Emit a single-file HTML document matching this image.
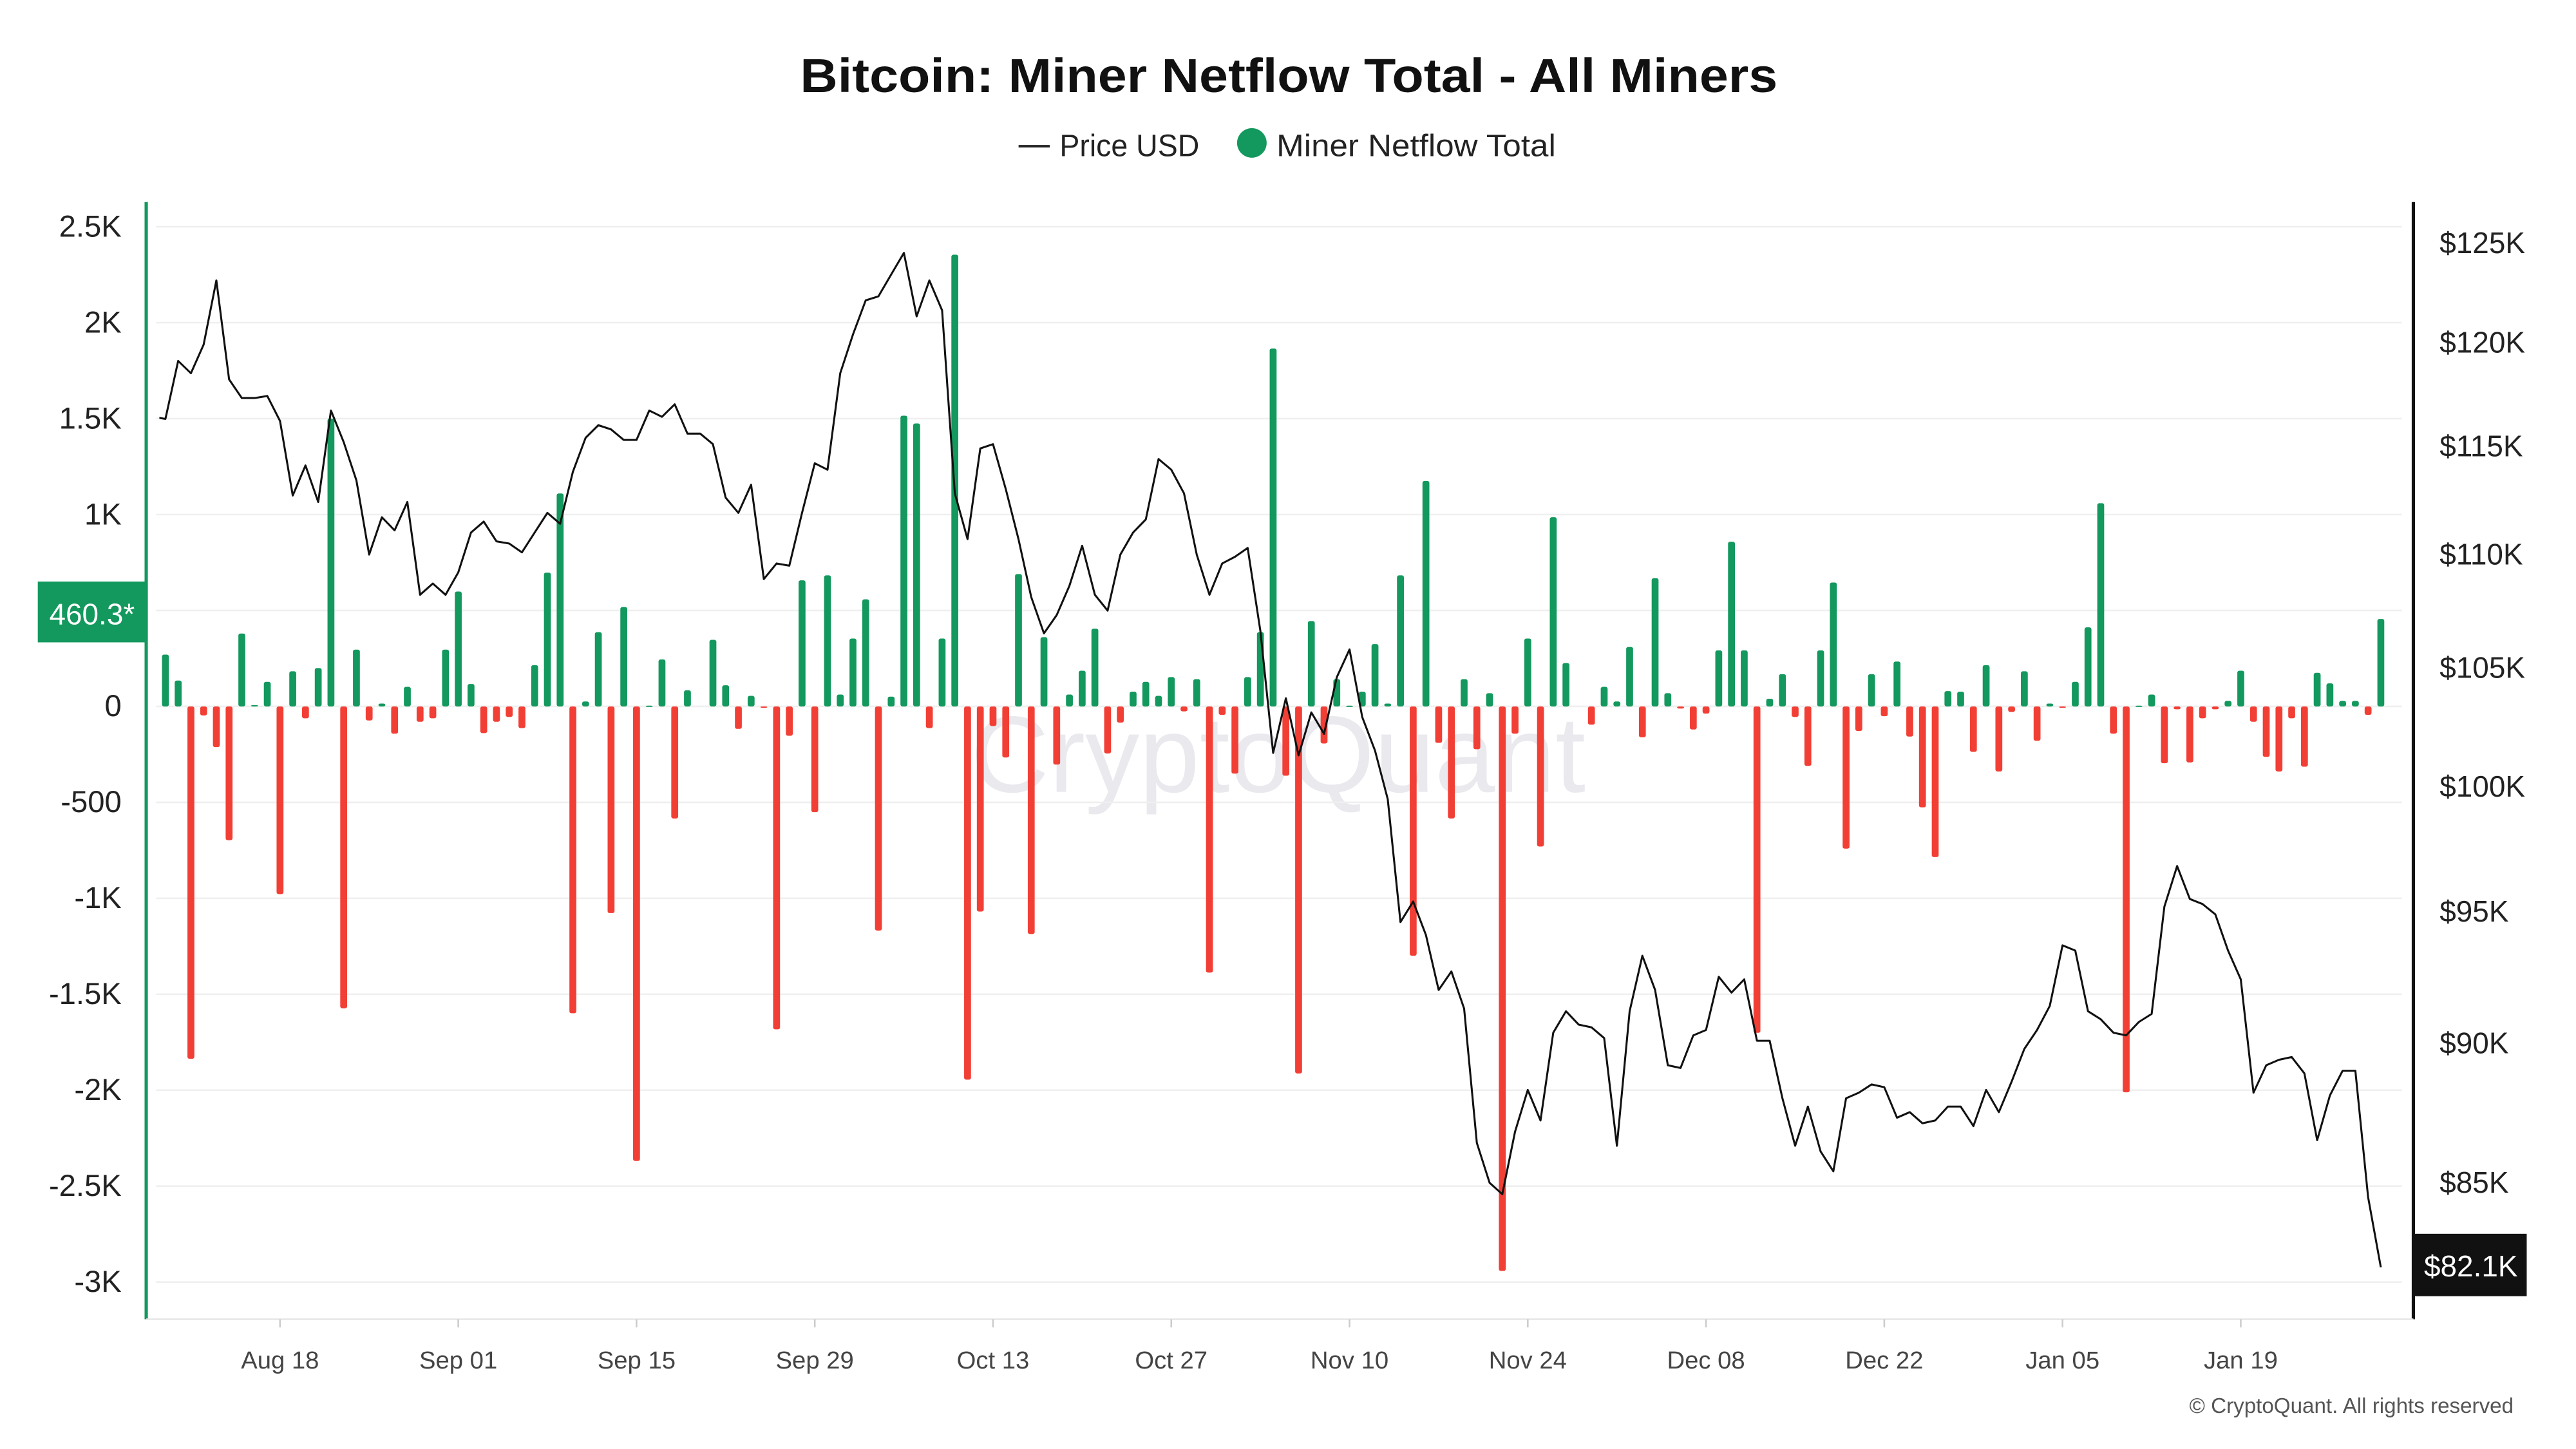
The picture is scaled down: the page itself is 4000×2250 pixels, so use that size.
<!DOCTYPE html>
<html><head><meta charset="utf-8"><style>
html,body{margin:0;padding:0;background:#fff;}
svg{display:block;font-family:"Liberation Sans",sans-serif;}
</style></head><body>
<svg id="chart" width="4000" height="2250" viewBox="0 0 1568 882" xmlns="http://www.w3.org/2000/svg">
<rect width="1568" height="882" fill="#fff"/>
<text x="487" y="56" textLength="595" lengthAdjust="spacingAndGlyphs" font-size="29" font-weight="bold" fill="#111">Bitcoin: Miner Netflow Total - All Miners</text>
<g>
<g><line x1="620" y1="89" x2="639" y2="89" stroke="#222" stroke-width="1.5"/><text x="645" y="95" font-size="19" fill="#222" textLength="85" lengthAdjust="spacingAndGlyphs">Price USD</text></g>
<g><circle cx="762" cy="87" r="9" fill="#13985d"/><text x="777" y="95" font-size="19" fill="#222" textLength="170" lengthAdjust="spacingAndGlyphs">Miner Netflow Total</text></g>
</g>
<text x="778" y="482" text-anchor="middle" font-size="66" fill="#e4e4ea" opacity="0.8">CryptoQuant</text>
<g id="grid"></g>
<g id="bars"></g>
<clipPath id="plotclip"><rect x="97" y="120" width="1366" height="690"/></clipPath>
<g id="line" clip-path="url(#plotclip)"></g>
<line x1="89" y1="123" x2="89" y2="803" stroke="#13985d" stroke-width="2"/>
<line x1="1469" y1="123" x2="1469" y2="803" stroke="#111" stroke-width="2"/>
<line x1="89" y1="803" x2="1469" y2="803" stroke="#e6e6e6" stroke-width="1"/>
<g id="laxis"></g><g id="raxis"></g><g id="xaxis"></g>
<g><rect x="23" y="354" width="66" height="37" fill="#13985d"/><text x="56" y="380" text-anchor="middle" font-size="18" fill="#fff">460.3*</text></g>
<g><rect x="1470" y="751" width="68" height="38" fill="#111"/><text x="1504" y="777" text-anchor="middle" font-size="18" fill="#fff">$82.1K</text></g>
<text x="1530" y="860" text-anchor="end" font-size="13" fill="#555">© CryptoQuant. All rights reserved</text>
</svg>
<script>
const netflow = [null,
270,135,-1836,-47,-212,-697,380,7,128,-978,183,-62,200,1500,-1573,296,-73,15,-142,102,-80,-62,296,599,117,-139,-80,-55,-113,215,
697,1110,-1599,26,387,-1077,518,-2369,4,245,-584,84,0,347,110,-117,55,-7,-1683,-153,657,-551,683,62,354,558,-1168,51,1515,
1475,-113,354,2354,-1945,-1069,-102,-266,690,-1186,361,-303,62,186,405,-245,-84,77,128,55,153,-26,142,-1387,-44,-350,153,387,1865,-361,
-1913,445,-193,142,4,77,325,15,683,-1299,1175,-190,-584,142,-223,69,-2942,-142,354,-730,986,226,0,-95,102,26,310,-161,668,69,
-11,-120,-37,292,858,292,-1701,40,168,-55,-310,292,646,-741,-128,168,-51,234,-157,-526,-785,80,77,-237,215,-339,-29,183,-179,15,
-7,128,412,1059,-142,-2011,4,62,-296,-15,-292,-62,-15,29,186,-80,-263,-339,-62,-314,175,120,29,29,-44,456];
const priceK = [116.4,
116.3,119.1,118.5,119.9,123.1,118.2,117.3,117.3,117.4,116.2,112.7,114.1,112.4,116.7,115.2,113.4,110.0,111.7,111.1,112.4,108.2,108.7,108.2,109.2,111.0,111.5,110.6,110.5,110.1,111.0,
111.9,111.4,113.8,115.4,116.0,115.8,115.3,115.3,116.7,116.4,117.0,115.6,115.6,115.1,112.6,111.9,113.2,108.9,109.6,109.5,111.9,114.2,113.9,118.5,120.4,122.1,122.3,123.4,124.5,
121.3,123.1,121.6,112.8,110.7,114.9,115.1,113.0,110.7,108.1,106.5,107.3,108.6,110.4,108.2,107.5,110.0,111.0,111.6,114.4,113.9,112.8,110.0,108.2,109.6,109.9,110.3,106.6,101.4,103.7,
101.3,103.1,102.2,104.6,105.8,102.9,101.5,99.5,94.6,95.4,94.1,92.0,92.7,91.3,86.4,85.0,84.6,86.8,88.3,87.2,90.4,91.2,90.7,90.6,90.2,86.3,91.2,93.3,92.0,89.2,
89.1,90.3,90.5,92.5,91.9,92.4,90.1,90.1,88.0,86.3,87.7,86.1,85.4,88.0,88.2,88.5,88.4,87.3,87.5,87.1,87.2,87.7,87.7,87.0,88.3,87.5,88.6,89.8,90.5,91.4,
93.7,93.5,91.2,90.9,90.4,90.3,90.8,91.1,95.2,96.8,95.5,95.3,94.9,93.5,92.4,88.2,89.2,89.4,89.5,88.9,86.5,88.1,89.0,89.0,84.5,82.1];
const leftTicks = [2500,2000,1500,1000,500,0,-500,-1000,-1500,-2000,-2500,-3000];
const leftTickLabels = ["2.5K","2K","1.5K","1K","500","0","-500","-1K","-1.5K","-2K","-2.5K","-3K"];
const rightTicks = [125,120,115,110,105,100,95,90,85];
const rightTickLabels = ["$125K","$120K","$115K","$110K","$105K","$100K","$95K","$90K","$85K"];
const xTickDays = [10,24,38,52,66,80,94,108,122,136,150,164];
const xTickLabels = ["Aug 18","Sep 01","Sep 15","Sep 29","Oct 13","Oct 27","Nov 10","Nov 24","Dec 08","Dec 22","Jan 05","Jan 19"];

const NS = "http://www.w3.org/2000/svg";
function xs(d){ return 100.7 + (d-1)*7.75; }
function yl(v){ return 430 - v*0.1168; }
function yr(p){ return 148 + 1483*Math.log(125/p); }
function mk(tag, attrs, parent){ const e=document.createElementNS(NS,tag); for(const k in attrs) e.setAttribute(k,attrs[k]); parent.appendChild(e); return e; }

const grid=document.getElementById('grid'), la=document.getElementById('laxis');
leftTicks.forEach((v,i)=>{
  const g=mk('line',{x1:95,x2:1462,y1:yl(v),y2:yl(v),stroke:'#efefef','stroke-width':1},grid);
  
  
  const t=mk('text',{x:74,y:yl(v)+6,'text-anchor':'end','font-size':18.5,fill:'#222'},la);
  t.textContent=leftTickLabels[i];
  
  
});
const ra=document.getElementById('raxis');
rightTicks.forEach((p,i)=>{
  const t=mk('text',{x:1485,y:yr(p)+6,'font-size':18,fill:'#222'},ra);
  t.textContent=rightTickLabels[i];
  
  
});
const xa=document.getElementById('xaxis');
xTickDays.forEach((d,i)=>{
  const tk=mk('line',{x1:xs(d),x2:xs(d),y1:803,y2:808,stroke:'#ccc'},xa);
  
  
  const t=mk('text',{x:xs(d),y:833,'text-anchor':'middle','font-size':15,fill:'#444'},xa);
  t.textContent=xTickLabels[i];
  
  
});
const bars=document.getElementById('bars');
netflow.forEach((v,d)=>{
  if(v===null || v===0) return;
  const y0=yl(0), y1=yl(v);
  const r=mk('rect',{x:xs(d)-2.1,y:Math.min(y0,y1),width:4.2,height:Math.max(Math.abs(y1-y0),0.8),rx:1.2,fill:v>0?'#13985d':'#f23f35'},bars);
  
  
});
const pts=priceK.map((p,d)=>xs(d).toFixed(2)+','+yr(p).toFixed(2)).join(' ');
const pl=mk('polyline',{points:pts,fill:'none',stroke:'#111','stroke-width':1.2,'stroke-linejoin':'round'},document.getElementById('line'));


</script>
</body></html>
